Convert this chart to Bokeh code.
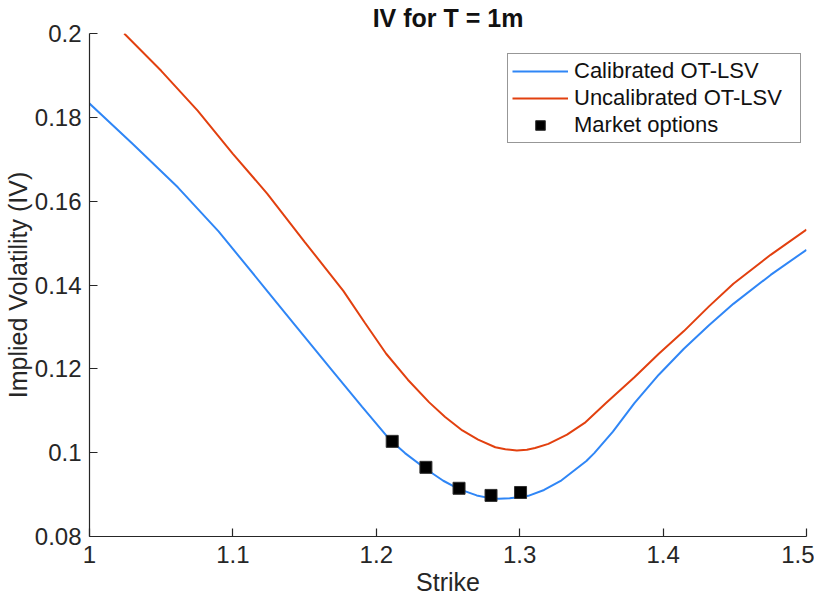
from bokeh.plotting import figure
from bokeh.models import (Range1d, FixedTicker, CustomJSTickFormatter, Legend, LegendItem)
from bokeh.embed import file_html
from bokeh.resources import INLINE

# ---- data ----
calib_strike = [1.0, 1.03, 1.0616, 1.09, 1.1227, 1.1446, 1.17, 1.19, 1.2069, 1.2111,
                1.22, 1.2346, 1.2467, 1.2577, 1.27, 1.2800, 1.2854, 1.293, 1.3006,
                1.306, 1.317, 1.3292, 1.3465, 1.352, 1.365, 1.380, 1.397, 1.4145,
                1.432, 1.449, 1.475, 1.5]
calib_iv = [0.1833, 0.1737, 0.1633, 0.1528, 0.1391, 0.1299, 0.1193, 0.1110, 0.1041, 0.1026,
            0.0999, 0.0961, 0.0933, 0.0913, 0.0898, 0.0891, 0.0890, 0.0891, 0.0894,
            0.0897, 0.0911, 0.0934, 0.0980, 0.0999, 0.1050, 0.1118, 0.1186, 0.1248,
            0.1304, 0.1355, 0.1424, 0.1484]

uncal_strike = [1.0242, 1.05, 1.0754, 1.10, 1.1239, 1.15, 1.177, 1.192, 1.2069, 1.222,
                1.2369, 1.248, 1.26, 1.271, 1.283, 1.29, 1.298, 1.305, 1.3107, 1.32,
                1.333, 1.3453, 1.36, 1.380, 1.397, 1.4145, 1.432, 1.449, 1.475, 1.5]
uncal_iv = [0.2000, 0.1911, 0.1816, 0.1713, 0.1618, 0.1503, 0.1386, 0.1310, 0.1236, 0.1174,
            0.1120, 0.1085, 0.1053, 0.1031, 0.1013, 0.1008, 0.1005, 0.1007, 0.1011, 0.1021,
            0.1043, 0.1071, 0.1118, 0.1180, 0.1236, 0.1290, 0.1349, 0.1403, 0.1472, 0.1532]

market_strike = [1.2111, 1.2346, 1.2577, 1.2800, 1.3006]
market_iv = [0.1027, 0.0965, 0.0915, 0.0898, 0.0905]

x_ticks = [1.0, 1.1, 1.2, 1.3, 1.4, 1.5]
x_tick_labels = ["1", "1.1", "1.2", "1.3", "1.4", "1.5"]
y_ticks = [0.08, 0.10, 0.12, 0.14, 0.16, 0.18, 0.20]
y_tick_labels = ["0.08", "0.1", "0.12", "0.14", "0.16", "0.18", "0.2"]

BLUE = "#2F86F6"
RED = "#E2400F"
AXC = "#262626"
FONT = "Liberation Sans"

p = figure(width=814, height=598, output_backend="svg", toolbar_location=None,
           x_range=Range1d(1.0, 1.5), y_range=Range1d(0.08, 0.2),
           min_border_left=83, min_border_right=8, min_border_top=30,
           min_border_bottom=62)
p.outline_line_color = None
p.grid.grid_line_color = None
p.background_fill_color = "white"
p.border_fill_color = "white"

p.title.text = "IV for T = 1m"
p.title.align = "center"
p.title.text_font = FONT
p.title.text_font_size = "25px"
p.title.text_font_style = "bold"
p.title.text_color = "#111111"
p.title.standoff = 3
p.title.offset = 0

r_cal = p.line(calib_strike, calib_iv, line_color=BLUE, line_width=2)
r_unc = p.line(uncal_strike, uncal_iv, line_color=RED, line_width=2)
r_mkt = p.scatter(market_strike, market_iv, marker="square", size=12,
                  fill_color="black", line_color="#303030", line_width=1)

def fmt(vals, labels):
    return CustomJSTickFormatter(args=dict(tvals=vals, tlabels=labels), code="""
        const i = tvals.findIndex(t => Math.abs(t - tick) < 1e-9);
        return i >= 0 ? tlabels[i] : '';
    """)

for ax, ticks, labels, lbl in ((p.xaxis[0], x_ticks, x_tick_labels, "Strike"),
                               (p.yaxis[0], y_ticks, y_tick_labels, "Implied Volatility (IV)")):
    ax.ticker = FixedTicker(ticks=ticks, minor_ticks=[])
    ax.formatter = fmt(ticks, labels)
    ax.axis_label = lbl
    ax.axis_label_text_font = FONT
    ax.axis_label_text_font_size = "25px"
    ax.axis_label_text_font_style = "normal"
    ax.axis_label_text_color = AXC
    ax.axis_label_text_line_height = 1.0
    ax.major_label_text_font = FONT
    ax.major_label_text_font_size = "24px"
    ax.major_label_text_color = AXC
    ax.major_label_text_line_height = 1.0
    ax.axis_line_color = AXC
    ax.axis_line_width = 1.2
    ax.major_tick_line_color = AXC
    ax.major_tick_line_width = 1.2
    ax.major_tick_in = 8
    ax.major_tick_out = 0
    ax.minor_tick_line_color = None

p.xaxis[0].major_label_standoff = 9
p.xaxis[0].axis_label_standoff = 2
p.yaxis[0].major_label_standoff = 8
p.yaxis[0].axis_label_standoff = 0

legend = Legend(items=[
    LegendItem(label="Calibrated OT-LSV", renderers=[r_cal]),
    LegendItem(label="Uncalibrated OT-LSV", renderers=[r_unc]),
    LegendItem(label="Market options", renderers=[r_mkt]),
], location=(418, 393))
legend.label_text_font = FONT
legend.label_text_font_size = "22px"
legend.label_text_line_height = 1.0
legend.label_text_color = "#111111"
legend.border_line_color = "#303030"
legend.border_line_width = 1.2
legend.background_fill_color = "white"
legend.background_fill_alpha = 1.0
legend.padding = 4
legend.spacing = 1
legend.glyph_width = 56
legend.glyph_height = 24
legend.label_height = 24
legend.label_standoff = 6
legend.label_width = 222
legend.margin = 0
p.add_layout(legend)

open("out.html", "w").write(file_html(p, INLINE))
